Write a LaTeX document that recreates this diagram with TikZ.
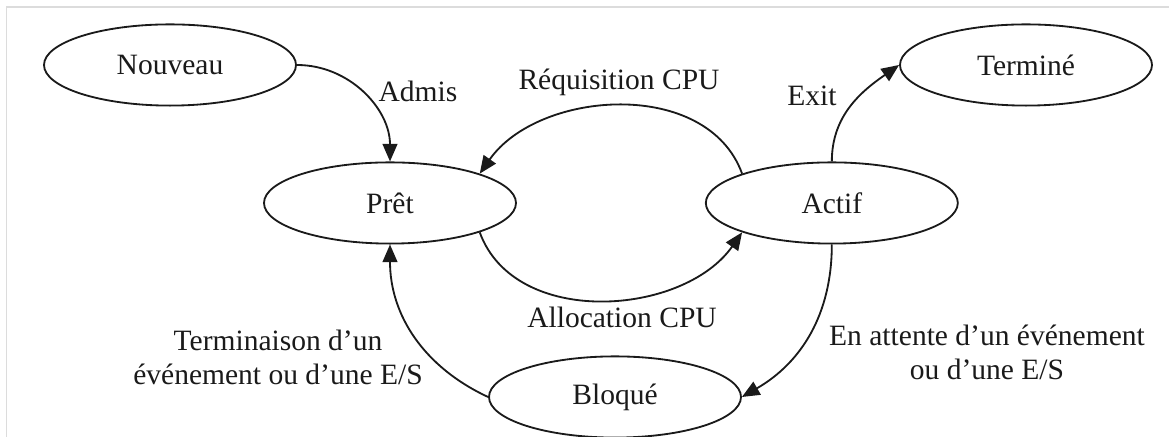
\documentclass[tikz,border=0pt]{standalone}
\usepackage{fontspec}
\setmainfont{Liberation Serif}
\usepackage{tikz}
\usetikzlibrary{shapes.geometric, arrows.meta, positioning}
\definecolor{FrameGray}{HTML}{DCDCDC}
\definecolor{InkBlack}{HTML}{1A1A1A}
\newcommand{\statefont}{\fontsize{21}{24.5}\selectfont}

\begin{document}
\begin{tikzpicture}[
    state/.style={ellipse,draw=InkBlack,line width=1.3pt,minimum width=6.3cm,
                  minimum height=2.03cm,inner sep=0pt,font=\statefont,text=InkBlack},
    edgelabel/.style={anchor=base,font=\statefont,align=center,text=InkBlack},
    trans/.style={draw=InkBlack,line width=1.3pt,-{Triangle[length=12.5pt,width=10.5pt]}}
]
    % Page size and frame
    \useasboundingbox (0,0) rectangle (29.225,10.925);
    \draw[FrameGray,line width=1pt] (0.16,0) -- (0.16,10.75) -- (29.225,10.75);

    % States
    \node[state] (nouveau) at (4.25,9.3) {Nouveau};
    \node[state] (pret) at (9.75,5.85) {Prêt};
    \node[state,right=4.7cm of pret] (actif) {Actif};
    \node[state] (termine) at (25.65,9.3) {Terminé};
    \node[state] (bloque) at (15.375,1.0) {Bloqué};

    % Transitions
    \draw[trans] (nouveau.east) to[out=0,in=90] (pret.north);
    \draw[trans] (actif.north west) to[out=110,in=55] (pret.north east);
    \draw[trans] (pret.south east) to[out=-70,in=-125] (actif.south west);
    \draw[trans] (actif.north) to[out=90,in=215] (termine.west);
    \draw[trans] (actif.south) to[out=-90,in=30] (bloque.east);
    \draw[trans] (bloque.west) to[out=155,in=-90] (pret.south);

    % Labels (base = last line)
    \node[edgelabel] (admis) at (10.45,8.375) {Admis};
    \node[edgelabel] (requis) at (15.475,8.675) {Réquisition CPU};
    \node[edgelabel] (exit) at (20.3,8.275) {Exit};
    \node[edgelabel] (alloc) at (15.55,2.725) {Allocation CPU};
    \node[edgelabel] (termin) at (6.95,1.3) {Terminaison d’un\\événement ou d’une E/S};
    \node[edgelabel] (attente) at (24.675,1.425) {En attente d’un événement\\ou d’une E/S};
\end{tikzpicture}
\end{document}
